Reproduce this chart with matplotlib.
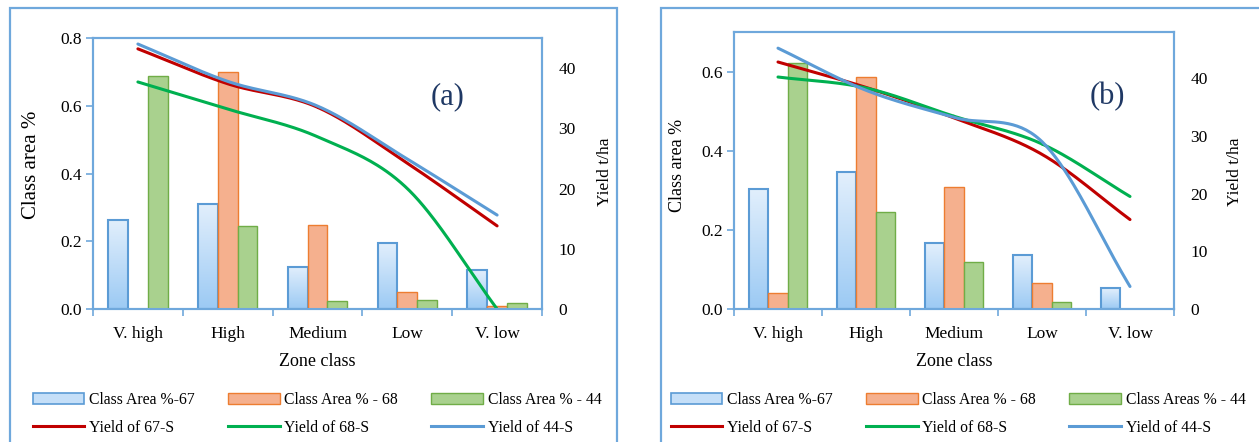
import numpy as np
import matplotlib
matplotlib.use("Agg")
import matplotlib.pyplot as plt
from matplotlib.patches import Rectangle, Patch
from matplotlib.lines import Line2D

plt.rcParams["font.family"] = ["Liberation Serif", "DejaVu Serif"]

zones = ["V. high", "High", "Medium", "Low", "V. low"]

# panel (a)
area67_a = [0.264, 0.311, 0.124, 0.195, 0.114]
area68_a = [0.0, 0.700, 0.248, 0.049, 0.008]
area44_a = [0.689, 0.246, 0.024, 0.028, 0.018]
yield67_a = [43.2, 37.4, 33.5, 24.2, 13.8]
yield68_a = [37.7, 33.2, 28.6, 20.0, 0.0]
yield44_a = [44.0, 37.8, 33.7, 24.9, 15.6]

# panel (b)
area67_b = [0.304, 0.346, 0.166, 0.136, 0.052]
area68_b = [0.041, 0.587, 0.308, 0.065, 0.0]
area44_b = [0.621, 0.245, 0.120, 0.017, 0.0]
yield67_b = [42.8, 38.4, 33.1, 26.8, 15.5]
yield68_b = [40.2, 38.3, 33.4, 28.6, 19.5]
yield44_b = [45.2, 37.9, 33.2, 29.0, 3.9]

labels_a = ["Class Area %-67", "Yield of 67-S", "Class Area % - 68",
            "Yield of 68-S", "Class Area % - 44", "Yield of 44-S"]
labels_b = ["Class Area %-67", "Yield of 67-S", "Class Area % - 68",
            "Yield of 68-S", "Class Areas % - 44", "Yield of 44-S"]

BLUE_EDGE = "#5B9BD5"
ORANGE_FILL, ORANGE_EDGE = "#F5B08E", "#ED7D31"
GREEN_FILL, GREEN_EDGE = "#A9D18E", "#70AD47"
RED_LINE, GREEN_LINE, BLUE_LINE = "#C00000", "#00B050", "#5B9BD5"
FRAME = "#6FA8DC"


def smooth(x, y, n=40):
    # Catmull-Rom curve through the points (Excel style "smoothed line")
    x = np.asarray(x, float)
    y = np.asarray(y, float)
    px = np.concatenate([[2 * x[0] - x[1]], x, [2 * x[-1] - x[-2]]])
    py = np.concatenate([[2 * y[0] - y[1]], y, [2 * y[-1] - y[-2]]])
    t = np.linspace(0, 1, n)

    def seg(a0, a1, a2, a3):
        return 0.5 * (2 * a1 + (-a0 + a2) * t
                      + (2 * a0 - 5 * a1 + 4 * a2 - a3) * t ** 2
                      + (-a0 + 3 * a1 - 3 * a2 + a3) * t ** 3)

    xs = [seg(*px[i - 1:i + 3]) for i in range(1, len(px) - 2)]
    ys = [seg(*py[i - 1:i + 3]) for i in range(1, len(py) - 2)]
    return np.concatenate(xs), np.concatenate(ys)


grad = np.linspace(0, 1, 100).reshape(-1, 1)
blue_cmap = matplotlib.colors.LinearSegmentedColormap.from_list(
    "bl", ["#E2EFFC", "#9CCAF4"])

W, H = 1259, 442


def panel(rect, a67, a68, a44, y67, y68, y44, ylim, y2lim, yticks,
          ylab_size, ylab_x, y2lab_x):
    ax = fig.add_axes(rect)
    x = np.arange(len(zones))
    w = 0.22
    bars = ax.bar(x - w, a67, w, facecolor="none", edgecolor=BLUE_EDGE,
                  linewidth=1.5, zorder=3)
    for b in bars:
        if b.get_height() <= 0:
            continue
        x0, y0 = b.get_x(), b.get_y()
        im = ax.imshow(grad, cmap=blue_cmap, aspect="auto", origin="upper",
                       extent=[x0, x0 + b.get_width(), y0, y0 + b.get_height()],
                       zorder=2)
        im.set_clip_path(b)
    ax.bar(x, a68, w, facecolor=ORANGE_FILL, edgecolor=ORANGE_EDGE,
           linewidth=1.0, zorder=3)
    ax.bar(x + w, a44, w, facecolor=GREEN_FILL, edgecolor=GREEN_EDGE,
           linewidth=1.0, zorder=3)
    ax.set_xlim(-0.5, 4.5)
    ax.set_ylim(*ylim)
    ax.set_yticks(yticks)
    ax.set_yticklabels([f"{v:.1f}" for v in yticks])
    ax.set_xticks(x)
    ax.set_xticklabels(zones)
    ax.set_xticks(np.arange(-0.5, 5, 1), minor=True)
    ax.tick_params(axis="x", which="major", length=0, labelsize=12.5, pad=12)
    ax.tick_params(axis="x", which="minor", length=5, width=1.2,
                   color=FRAME, direction="out")
    ax.tick_params(axis="y", length=5, width=1.2, color=FRAME,
                   direction="out", labelsize=12.5, pad=3)
    ax.set_xlabel("Zone class", fontsize=13, labelpad=8)
    ax.set_ylabel("Class area %", fontsize=ylab_size)
    ax.yaxis.set_label_coords(ylab_x, 1 - 165 / H, transform=fig.transFigure)
    ax.yaxis.label.set_va("center")

    ax2 = ax.twinx()
    for vals, c in [(y67, RED_LINE), (y68, GREEN_LINE), (y44, BLUE_LINE)]:
        sx, sy = smooth(x, vals)
        ax2.plot(sx, sy, color=c, linewidth=2.2, solid_capstyle="round")
    ax2.set_ylim(*y2lim)
    ax2.set_yticks([0, 10, 20, 30, 40])
    ax2.tick_params(axis="y", length=0, labelsize=12.5, pad=12)
    ax2.set_ylabel("Yield t/ha", fontsize=12.5)
    ax2.yaxis.set_label_coords(y2lab_x, 1 - 172 / H, transform=fig.transFigure)
    ax2.yaxis.label.set_va("center")
    for a in (ax, ax2):
        for s in a.spines.values():
            s.set_color(FRAME)
            s.set_linewidth(1.5)
    return ax


fig = plt.figure(figsize=(12.59, 4.42), dpi=100)

for x0, x1 in [(10, 617), (661, 1275)]:
    fig.patches.append(Rectangle((x0 / W, -0.1), (x1 - x0) / W, 1 - 8 / H + 0.1,
                                 transform=fig.transFigure, fill=False,
                                 edgecolor=FRAME, linewidth=1.6))

panel([93 / W, 1 - 309 / H, 449 / W, 271 / H],
      area67_a, area68_a, area44_a, yield67_a, yield68_a, yield44_a,
      (0, 0.8), (0, 45), [0.0, 0.2, 0.4, 0.6, 0.8], 15,
      32 / W, 605 / W)
panel([734 / W, 1 - 309 / H, 440 / W, 277 / H],
      area67_b, area68_b, area44_b, yield67_b, yield68_b, yield44_b,
      (0, 0.7), (0, 48), [0.0, 0.2, 0.4, 0.6], 13,
      678 / W, 1235 / W)

fig.text(448 / W, 1 - 97 / H, "(a)", fontsize=22, color="#1F3864",
         ha="center", va="center")
fig.text(1107 / W, 1 - 97 / H, "(b)", fontsize=22, color="#1F3864",
         ha="center", va="center")


def legend_handles():
    return [
        Patch(facecolor="#C5DFF8", edgecolor=BLUE_EDGE, linewidth=1.2),
        Line2D([], [], color=RED_LINE, linewidth=2.2),
        Patch(facecolor=ORANGE_FILL, edgecolor=ORANGE_EDGE, linewidth=1.0),
        Line2D([], [], color=GREEN_LINE, linewidth=2.2),
        Patch(facecolor=GREEN_FILL, edgecolor=GREEN_EDGE, linewidth=1.0),
        Line2D([], [], color=BLUE_LINE, linewidth=2.2),
    ]


for labels, xc in [(labels_a, 317), (labels_b, 958)]:
    fig.legend(legend_handles(), labels, ncol=3, loc="center",
               bbox_to_anchor=(xc / W, 1 - 414 / H),
               frameon=False, fontsize=11.3, handlelength=3.3,
               handleheight=0.7, columnspacing=2.1, labelspacing=0.75,
               handletextpad=0.3)

fig.savefig("out.png", dpi=100)
